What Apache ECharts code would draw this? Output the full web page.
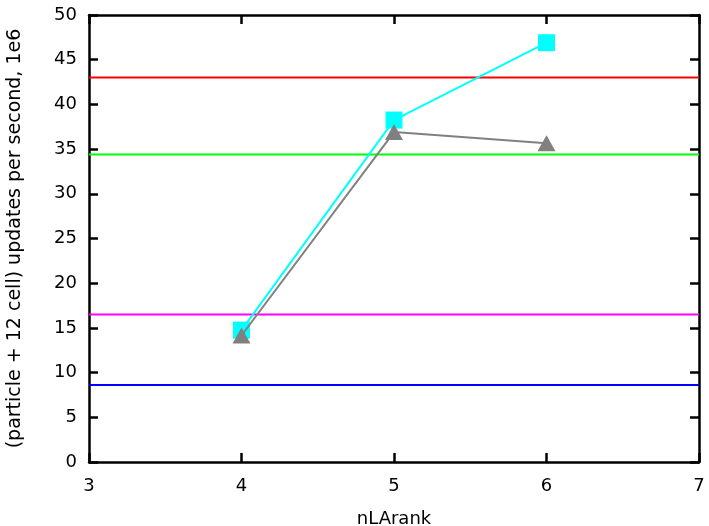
<!DOCTYPE html>
<html>
<head>
<meta charset="utf-8">
<script src="https://cdn.jsdelivr.net/npm/echarts@6/dist/echarts.min.js"></script>
<style>
  html, body { margin: 0; padding: 0; background: #fff; }
  #chart { width: 709px; height: 526px; }
</style>
</head>
<body>
<div id="chart"></div>
<script>
// Measured throughput per nLArank
const nLArank = [4, 5, 6];
const cyanSeries = [14.75, 38.25, 46.9];
const graySeries = [14.15, 36.9, 35.65];

// Reference levels drawn as horizontal lines
const refLevels = [43.0, 34.4, 16.5, 8.6];
const refColors = ['#ff0000', '#00ff00', '#ff00ff', '#0000ff'];

const xTicks = [3, 4, 5, 6, 7];
const yMin = 0, yMax = 50, yStep = 5;

const FONT = 'DejaVu Sans';
const FS = 18;

function pairs(xs, ys) { return xs.map((x, i) => [x, ys[i]]); }

const axisLineStyle = { color: '#000', width: 2.5 };

const refSeries = refLevels.map((v, i) => ({
  type: 'line',
  xAxisIndex: 0, yAxisIndex: 0,
  data: [[xTicks[0], v], [xTicks[xTicks.length - 1], v]],
  symbol: 'none',
  lineStyle: { color: refColors[i], width: 2 },
  z: 2,
  silent: true
}));

const option = {
  animation: false,
  backgroundColor: '#fff',
  textStyle: { fontFamily: FONT },
  grid: { left: 89, right: 10, top: 15, bottom: 64, containLabel: false, outerBoundsMode: 'none' },
  xAxis: [
    {
      type: 'value', position: 'bottom',
      min: xTicks[0], max: xTicks[xTicks.length - 1], interval: 1,
      name: 'nLArank', nameLocation: 'middle', nameGap: 48,
      nameTextStyle: { fontFamily: FONT, fontSize: FS, color: '#000' },
      axisLine: { show: true, onZero: false, lineStyle: axisLineStyle },
      axisTick: { show: true, inside: true, length: 9, lineStyle: axisLineStyle },
      axisLabel: { fontFamily: FONT, fontSize: FS, color: '#000', margin: 15 },
      splitLine: { show: false }
    },
    {
      type: 'value', position: 'top',
      min: xTicks[0], max: xTicks[xTicks.length - 1], interval: 1,
      axisLine: { show: true, onZero: false, lineStyle: axisLineStyle },
      axisTick: { show: true, inside: true, length: 9, lineStyle: axisLineStyle },
      axisLabel: { show: false },
      splitLine: { show: false }
    }
  ],
  yAxis: [
    {
      type: 'value', position: 'left',
      min: yMin, max: yMax, interval: yStep,
      name: '(particle + 12 cell) updates per second, 1e6',
      nameLocation: 'middle', nameGap: 64, nameRotate: 90,
      nameTextStyle: { fontFamily: FONT, fontSize: 19, color: '#000' },
      axisLine: { show: true, onZero: false, lineStyle: axisLineStyle },
      axisTick: { show: true, inside: true, length: 9, lineStyle: axisLineStyle },
      axisLabel: { fontFamily: FONT, fontSize: FS, color: '#000', margin: 12 },
      splitLine: { show: false }
    },
    {
      type: 'value', position: 'right',
      min: yMin, max: yMax, interval: yStep,
      axisLine: { show: true, onZero: false, lineStyle: axisLineStyle },
      axisTick: { show: true, inside: true, length: 9, lineStyle: axisLineStyle },
      axisLabel: { show: false },
      splitLine: { show: false }
    }
  ],
  series: refSeries.concat([
    {
      type: 'line',
      xAxisIndex: 0, yAxisIndex: 0,
      data: pairs(nLArank, cyanSeries),
      symbol: 'rect', symbolSize: 17,
      itemStyle: { color: '#00ffff' },
      lineStyle: { color: '#00ffff', width: 2 },
      z: 3
    },
    {
      type: 'line',
      xAxisIndex: 0, yAxisIndex: 0,
      data: pairs(nLArank, graySeries),
      symbol: 'triangle', symbolSize: [18, 16],
      itemStyle: { color: '#808080' },
      lineStyle: { color: '#808080', width: 2 },
      z: 4
    }
  ])
};

const chart = echarts.init(document.getElementById('chart'), null, { renderer: 'canvas' });
chart.setOption(option);
</script>
</body>
</html>
